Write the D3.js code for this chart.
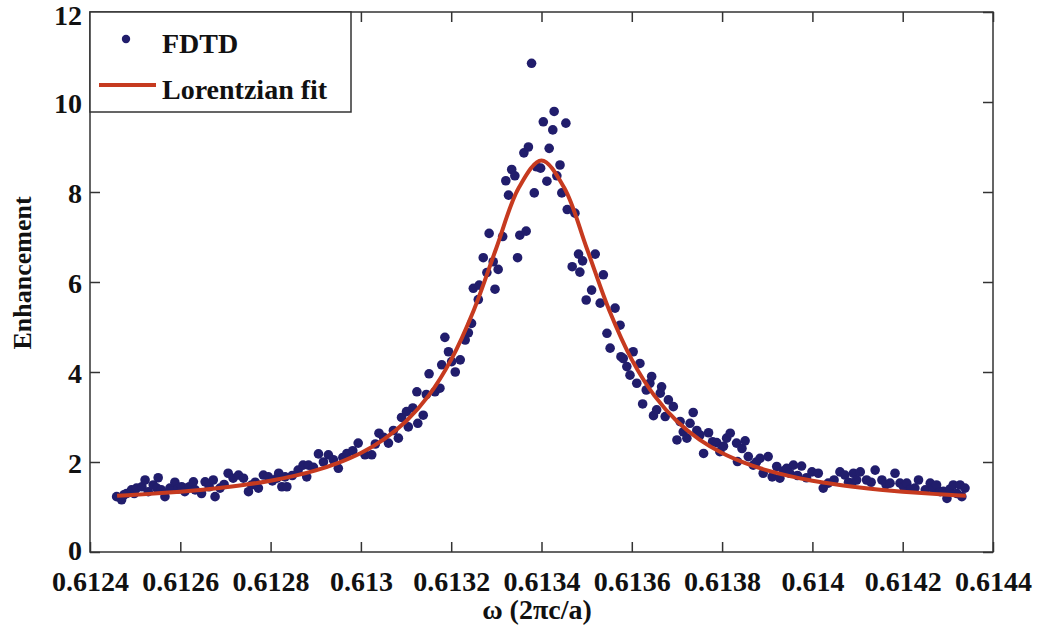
<!DOCTYPE html>
<html>
<head>
<meta charset="utf-8">
<script src="https://cdn.jsdelivr.net/npm/d3@7"></script>
<style>
  body { margin: 0; background: #fff; }
  text { font-family: "Liberation Serif", "Times New Roman", serif; font-weight: bold; fill: #111; }
</style>
</head>
<body>
<div id="chart"></div>
<script>
// FDTD samples (omega in 2πc/a, enhancement)
var fdtdOmega = [
  0.612459,0.612470,0.612475,0.612481,0.612492,0.612498,0.612503,0.612515,0.612522,0.612529,
  0.612540,0.612548,0.612551,0.612558,0.612566,0.612577,0.612588,0.612595,0.612603,0.612610,
  0.612620,0.612629,0.612633,0.612647,0.612655,0.612664,0.612673,0.612677,0.612688,0.612697,
  0.612706,0.612717,0.612729,0.612740,0.612751,0.612758,0.612766,0.612773,0.612784,0.612795,
  0.612804,0.612814,0.612818,0.612825,0.612832,0.612836,0.612848,0.612861,0.612872,0.612880,
  0.612884,0.612895,0.612906,0.612917,0.612928,0.612939,0.612950,0.612960,0.612969,0.612982,
  0.612994,0.613009,0.613024,0.613032,0.613040,0.613050,0.613061,0.613072,0.613083,0.613090,
  0.613101,0.613105,0.613115,0.613124,0.613126,0.613138,0.613145,0.613151,0.613164,0.613175,
  0.613179,0.613186,0.613194,0.613201,0.613209,0.613220,0.613231,0.613238,0.613245,0.613249,
  0.613260,0.613262,0.613271,0.613279,0.613284,0.613293,0.613297,0.613304,0.613314,0.613321,
  0.613327,0.613334,0.613341,0.613347,0.613352,0.613361,0.613366,0.613371,0.613378,0.613384,
  0.613389,0.613398,0.613404,0.613412,0.613417,0.613425,0.613428,0.613434,0.613441,0.613445,
  0.613454,0.613457,0.613468,0.613474,0.613482,0.613485,0.613491,0.613499,0.613511,0.613519,
  0.613530,0.613537,0.613545,0.613552,0.613563,0.613574,0.613576,0.613581,0.613589,0.613596,
  0.613603,0.613611,0.613618,0.613624,0.613632,0.613640,0.613644,0.613648,0.613655,0.613663,
  0.613666,0.613674,0.613681,0.613692,0.613700,0.613707,0.613714,0.613722,0.613729,0.613736,
  0.613744,0.613751,0.613759,0.613770,0.613779,0.613788,0.613795,0.613803,0.613810,0.613818,
  0.613832,0.613834,0.613844,0.613851,0.613858,0.613869,0.613876,0.613884,0.613891,0.613902,
  0.613911,0.613921,0.613928,0.613936,0.613943,0.613950,0.613958,0.613967,0.613976,0.613987,
  0.613999,0.614013,0.614024,0.614035,0.614048,0.614061,0.614072,0.614080,0.614087,0.614091,
  0.614098,0.614106,0.614120,0.614130,0.614139,0.614154,0.614163,0.614172,0.614183,0.614194,
  0.614202,0.614209,0.614218,0.614227,0.614235,0.614250,0.614261,0.614268,0.614275,0.614283,
  0.614290,0.614298,0.614305,0.614312,0.614320,0.614327,0.614331,0.614338
];
var fdtdEnh = [
  1.23,1.16,1.27,1.30,1.38,1.30,1.42,1.45,1.60,1.34,
  1.49,1.42,1.65,1.38,1.23,1.42,1.55,1.40,1.45,1.34,
  1.45,1.56,1.38,1.30,1.56,1.45,1.60,1.23,1.42,1.50,
  1.75,1.64,1.71,1.64,1.34,1.49,1.55,1.42,1.71,1.67,
  1.58,1.64,1.75,1.45,1.67,1.45,1.70,1.82,1.93,1.67,
  1.93,1.88,2.18,2.00,2.16,2.05,1.86,2.10,2.19,2.25,
  2.42,2.16,2.16,2.40,2.64,2.55,2.42,2.70,2.53,2.99,
  3.12,2.78,3.20,3.56,2.86,3.04,3.50,3.96,3.56,3.64,
  4.16,4.77,4.45,4.23,4.00,4.27,4.71,4.87,5.08,5.86,
  5.61,5.93,6.54,6.21,7.08,6.45,5.84,6.28,7.01,8.25,
  7.93,8.50,8.36,6.54,7.04,8.87,7.13,9.00,10.86,7.98,
  8.56,8.53,9.56,8.24,8.97,9.38,9.79,8.36,8.60,7.98,
  9.53,7.61,6.34,7.53,6.62,6.22,6.47,5.60,5.82,6.62,
  5.53,6.16,4.86,4.53,5.42,5.04,4.34,4.30,4.12,3.93,
  4.45,3.75,4.19,3.29,3.60,3.75,3.90,3.03,3.16,3.53,
  3.67,3.01,3.38,3.23,2.49,2.90,2.67,2.53,2.86,3.10,
  2.70,2.60,2.19,2.65,2.45,2.43,2.23,2.35,2.53,2.64,
  2.42,2.01,2.30,2.47,2.12,1.93,2.00,2.08,1.75,2.12,
  1.67,1.90,1.64,1.80,1.86,1.75,1.93,1.70,1.91,1.65,
  1.78,1.75,1.42,1.53,1.60,1.78,1.71,1.55,1.53,1.75,
  1.60,1.78,1.60,1.55,1.82,1.60,1.50,1.53,1.75,1.53,
  1.45,1.53,1.40,1.42,1.60,1.38,1.53,1.40,1.49,1.34,
  1.35,1.19,1.40,1.49,1.30,1.49,1.23,1.42
];

// Lorentzian fit curve
var fitOmega = [
  0.61246,0.61250,0.61255,0.61260,0.61265,0.61270,0.61275,0.61280,0.61285,0.61290,
  0.61295,0.61300,0.61305,0.61310,0.61315,0.61320,0.61325,0.61330,0.61335,0.61340,
  0.61345,0.61350,0.61355,0.61360,0.61365,0.61370,0.61375,0.61380,0.61385,0.61390,
  0.61395,0.61400,0.61405,0.61410,0.61415,0.61420,0.61425,0.61430,0.61434
];
var fitEnh = [
  1.249,1.271,1.303,1.340,1.385,1.439,1.504,1.585,1.686,1.815,
  1.982,2.201,2.498,2.905,3.474,4.274,5.373,6.755,8.100,8.700,
  8.100,6.755,5.373,4.274,3.474,2.905,2.498,2.201,1.982,1.815,
  1.686,1.585,1.504,1.439,1.385,1.340,1.303,1.271,1.249
];

var xTicks = [0.6124,0.6126,0.6128,0.6130,0.6132,0.6134,0.6136,0.6138,0.6140,0.6142,0.6144];
var xTickLabels = ["0.6124","0.6126","0.6128","0.613","0.6132","0.6134","0.6136","0.6138","0.614","0.6142","0.6144"];
var yTicks = [0,2,4,6,8,10,12];

var seriesNames = ["FDTD", "Lorentzian fit"];

function init(){

    var w = 1039;
    var h = 639;
    var left = 90, right = 993, top = 12, bottom = 552;

    var svg = d3.select("#chart")
                .append("svg")
                .attr("width", w)
                .attr("height", h);

    var x = d3.scaleLinear().domain([0.6124, 0.6144]).range([left, right]);
    var y = d3.scaleLinear().domain([0, 12]).range([bottom, top]);

    var points = fdtdOmega.map(function(o, i){ return [o, fdtdEnh[i]]; });
    var fit = fitOmega.map(function(o, i){ return [o, fitEnh[i]]; });

    // scatter
    svg.append("g")
        .selectAll("circle")
        .data(points)
        .enter()
        .append("circle")
        .attr("cx", function(d){ return x(d[0]); })
        .attr("cy", function(d){ return y(d[1]); })
        .attr("r", 4.8)
        .attr("fill", "#211d6c");

    // fit line
    var line = d3.line()
        .x(function(d){ return x(d[0]); })
        .y(function(d){ return y(d[1]); })
        .curve(d3.curveCatmullRom);

    svg.append("path")
        .datum(fit)
        .attr("d", line)
        .attr("fill", "none")
        .attr("stroke", "#c63a1f")
        .attr("stroke-width", 4);

    // axes, ticks pointing inward
    var fmt = function(d, i){ return xTickLabels[i]; };

    var gx = svg.append("g")
        .attr("transform", "translate(0," + bottom + ")")
        .call(d3.axisBottom(x).tickValues(xTicks).tickFormat(fmt)
            .tickSizeInner(-10).tickSizeOuter(0).tickPadding(19));
    var gxTop = svg.append("g")
        .attr("transform", "translate(0," + top + ")")
        .call(d3.axisTop(x).tickValues(xTicks).tickFormat("")
            .tickSizeInner(-10).tickSizeOuter(0));
    var gy = svg.append("g")
        .attr("transform", "translate(" + left + ",0)")
        .call(d3.axisLeft(y).tickValues(yTicks).tickFormat(d3.format("d"))
            .tickSizeInner(-10).tickSizeOuter(0).tickPadding(8));
    var gyRight = svg.append("g")
        .attr("transform", "translate(" + right + ",0)")
        .call(d3.axisRight(y).tickValues(yTicks).tickFormat("")
            .tickSizeInner(-10).tickSizeOuter(0));

    [gx, gxTop, gy, gyRight].forEach(function(g){
        g.select(".domain").remove();
        g.selectAll(".tick line").attr("stroke", "#333").attr("stroke-width", 1.5);
        g.selectAll(".tick text")
            .attr("font-family", "Liberation Serif, serif")
            .attr("font-weight", "bold")
            .attr("font-size", "28px")
            .attr("fill", "#111");
    });
    // nudge labels: top one down a touch, bottom one up a touch
    gy.selectAll(".tick text").attr("dy", function(d){ return d === 12 ? "0.45em" : (d === 0 ? "0.28em" : "0.36em"); });

    // frame
    svg.append("rect")
        .attr("x", left)
        .attr("y", top)
        .attr("width", right - left)
        .attr("height", bottom - top)
        .attr("fill", "none")
        .attr("stroke", "#333")
        .attr("stroke-width", 1.5);

    // axis titles
    svg.append("text")
        .text("ω (2πc/a)")
        .attr("x", 537)
        .attr("y", 619)
        .attr("text-anchor", "middle")
        .attr("font-size", "28px");

    svg.append("text")
        .text("Enhancement")
        .attr("transform", "translate(31,273) rotate(-90)")
        .attr("text-anchor", "middle")
        .attr("font-size", "26px");

    // legend
    var lg = svg.append("g");
    lg.append("rect")
        .attr("x", left)
        .attr("y", top)
        .attr("width", 261)
        .attr("height", 100)
        .attr("fill", "#fff")
        .attr("stroke", "#333")
        .attr("stroke-width", 1.5);
    lg.append("circle")
        .attr("cx", 126)
        .attr("cy", 39)
        .attr("r", 4.2)
        .attr("fill", "#211d6c");
    lg.append("line")
        .attr("x1", 99).attr("x2", 156)
        .attr("y1", 85).attr("y2", 85)
        .attr("stroke", "#c63a1f")
        .attr("stroke-width", 4);
    lg.selectAll("text.leg")
        .data(seriesNames)
        .enter()
        .append("text")
        .attr("class", "leg")
        .text(function(d){ return d; })
        .attr("x", 162)
        .attr("y", function(d, i){ return 53 + i * 46; })
        .attr("font-size", "28px");
}

window.onload = init;
</script>
</body>
</html>
